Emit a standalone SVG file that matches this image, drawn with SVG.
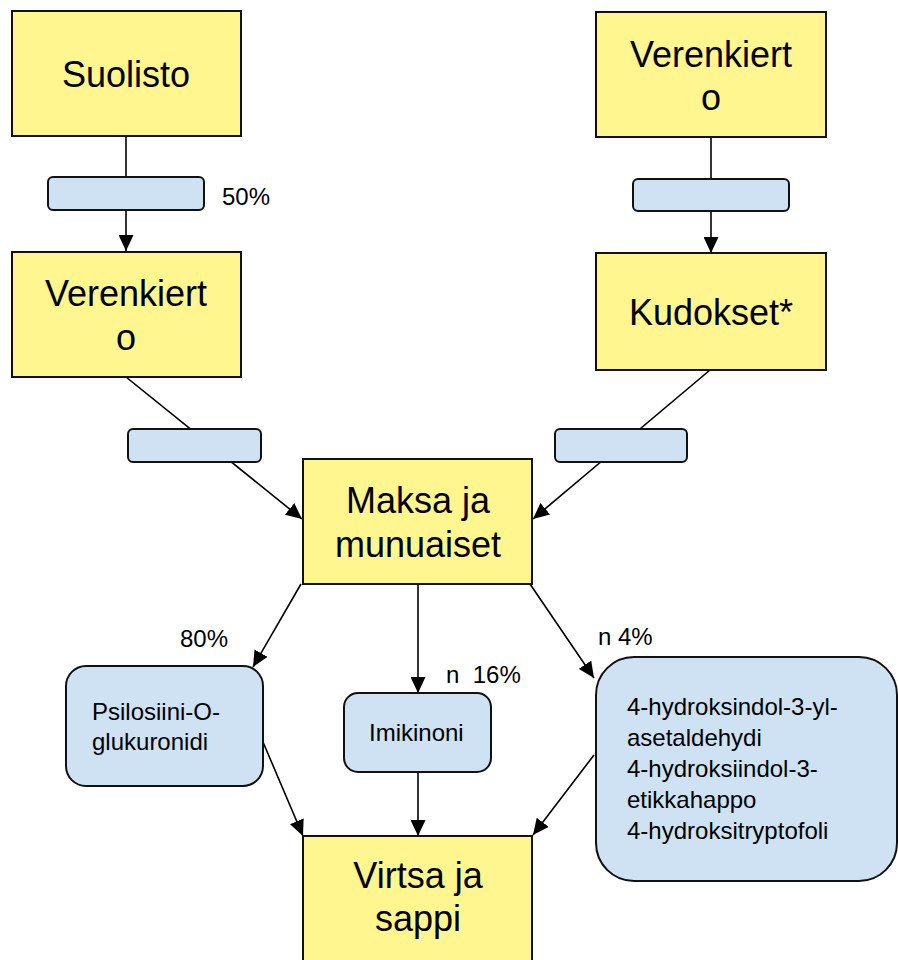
<svg xmlns="http://www.w3.org/2000/svg" width="898" height="960" viewBox="0 0 898 960">
<style>
.y{fill:#fff68f;stroke:#111;stroke-width:2}
.b{fill:#cfe2f3;stroke:#111;stroke-width:2}
.big{font-family:"Liberation Sans",Arial,sans-serif;font-size:36px;fill:#000;text-anchor:middle}
.sm{font-family:"Liberation Sans",Arial,sans-serif;font-size:24px;fill:#000}
.c{stroke:#000;stroke-width:1.6;fill:none;marker-end:url(#ah)}
</style>
<defs>
<marker id="ah" markerUnits="userSpaceOnUse" markerWidth="16" markerHeight="15" refX="16" refY="7.5" orient="auto">
<path d="M0,0 L16,7.5 L0,15 z" fill="#000"/>
</marker>
</defs>
<rect width="898" height="960" fill="#fff"/>
<g id="connectors">
<line class="c" x1="126" y1="136" x2="126" y2="251"/>
<line class="c" x1="711" y1="137" x2="711" y2="253"/>
<line class="c" x1="126" y1="377" x2="302" y2="519"/>
<line class="c" x1="710" y1="370" x2="533" y2="519"/>
<line class="c" x1="301" y1="584" x2="253" y2="667"/>
<line class="c" x1="418" y1="584" x2="418" y2="693"/>
<line class="c" x1="530" y1="584" x2="594" y2="678"/>
<line class="c" x1="263" y1="742" x2="303" y2="836"/>
<line class="c" x1="418" y1="772" x2="418" y2="836"/>
<line class="c" x1="594" y1="755" x2="533" y2="835"/>
</g>
<g id="suolisto">
<rect class="y" x="12" y="11" width="229" height="125"/>
<text class="big" x="126" y="87">Suolisto</text>
</g>
<g id="step-left-top">
<rect class="b" x="48" y="177" width="156" height="33" rx="5"/>
</g>
<text id="label-50" class="sm" x="222" y="205">50%</text>
<g id="verenkierto-left">
<rect class="y" x="12" y="252" width="229" height="125"/>
<text class="big" x="126" y="306">Verenkiert</text>
<text class="big" x="126" y="350">o</text>
</g>
<g id="verenkierto-right">
<rect class="y" x="596" y="12" width="230" height="125"/>
<text class="big" x="711" y="67">Verenkiert</text>
<text class="big" x="711" y="110">o</text>
</g>
<g id="step-right-top">
<rect class="b" x="633" y="179" width="156" height="32" rx="5"/>
</g>
<g id="kudokset">
<rect class="y" x="596" y="253" width="230" height="117"/>
<text class="big" x="711" y="325">Kudokset*</text>
</g>
<g id="step-left-mid">
<rect class="b" x="128" y="429" width="133" height="33" rx="5"/>
</g>
<g id="step-right-mid">
<rect class="b" x="555" y="429" width="132" height="33" rx="5"/>
</g>
<g id="maksa">
<rect class="y" x="303" y="459" width="229" height="125"/>
<text class="big" x="418" y="513">Maksa ja</text>
<text class="big" x="418" y="557">munuaiset</text>
</g>
<text id="label-80" class="sm" x="180" y="647">80%</text>
<text id="label-16" class="sm" x="446" y="683" xml:space="preserve">n  16%</text>
<text id="label-4" class="sm" x="598" y="645">n 4%</text>
<g id="psilosiini">
<rect class="b" x="66" y="666" width="197" height="120" rx="20"/>
<text class="sm" x="92" y="720">Psilosiini-O-</text>
<text class="sm" x="92" y="750">glukuronidi</text>
</g>
<g id="imikinoni">
<rect class="b" x="344" y="693" width="147" height="79" rx="14"/>
<text class="sm" x="369" y="741">Imikinoni</text>
</g>
<g id="metabolites">
<rect class="b" x="596" y="657" width="301" height="224" rx="38"/>
<text class="sm" x="627" y="715">4-hydroksindol-3-yl-</text>
<text class="sm" x="627" y="746">asetaldehydi</text>
<text class="sm" x="627" y="777">4-hydroksiindol-3-</text>
<text class="sm" x="627" y="808">etikkahappo</text>
<text class="sm" x="627" y="839">4-hydroksitryptofoli</text>
</g>
<g id="virtsa">
<rect class="y" x="303" y="836" width="229" height="130"/>
<text class="big" x="418" y="888">Virtsa ja</text>
<text class="big" x="418" y="931">sappi</text>
</g>
</svg>
